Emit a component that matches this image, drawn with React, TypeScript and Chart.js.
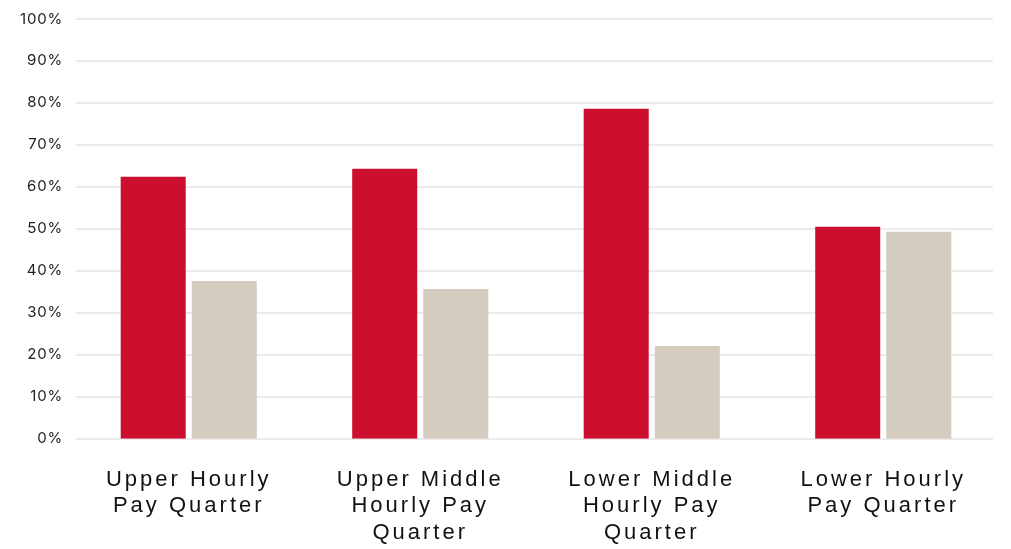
import React, { useEffect, useRef } from "react";
import { Chart, registerables } from "chart.js";

Chart.register(...registerables);

const categories: string[][] = [
  ["Upper Hourly", "Pay Quarter"],
  ["Upper Middle", "Hourly Pay", "Quarter"],
  ["Lower Middle", "Hourly Pay", "Quarter"],
  ["Lower Hourly", "Pay Quarter"],
];
const femaleValues = [62.4, 64.3, 78.6, 50.5];
const maleValues = [37.6, 35.7, 22.1, 49.3];
const yTicks = [0, 10, 20, 30, 40, 50, 60, 70, 80, 90, 100];

const gridPlugin = {
  id: "insetGrid",
  beforeDatasetsDraw(chart: any) {
    const ctx = chart.ctx;
    const y = chart.scales.y;
    const { left, right } = chart.chartArea;
    ctx.save();
    ctx.strokeStyle = "#EBEBEB";
    ctx.lineWidth = 2;
    yTicks.forEach((v) => {
      const py = Math.round(y.getPixelForValue(v));
      ctx.beginPath();
      ctx.moveTo(left + 3, py);
      ctx.lineTo(right - 6, py);
      ctx.stroke();
    });
    ctx.restore();
  },
};

const spacingPlugin = {
  id: "spacing",
  beforeDraw(chart: any) {
    (chart.ctx as any).letterSpacing = "3px";
  },
  beforeDatasetsDraw(chart: any) {
    (chart.ctx as any).letterSpacing = "0.8px";
  },
};

export default function App() {
  const ref = useRef<HTMLCanvasElement>(null);
  useEffect(() => {
    if (!ref.current) return;
    const chart = new Chart(ref.current, {
      type: "bar",
      data: {
        labels: categories as any,
        datasets: [
          {
            label: "Female",
            data: femaleValues,
            backgroundColor: "#CC0F2E",
            categoryPercentage: 0.614,
            barPercentage: 0.915,
          },
          {
            label: "Male",
            data: maleValues,
            backgroundColor: "#D4CCBF",
            categoryPercentage: 0.614,
            barPercentage: 0.915,
          },
        ],
      },
      options: {
        animation: false,
        responsive: false,
        maintainAspectRatio: false,
        layout: { padding: { top: 8, right: 12, left: 0, bottom: -25 } },
        plugins: {
          legend: { display: false },
          tooltip: { enabled: false },
        },
        scales: {
          x: {
            grid: { display: false, drawTicks: false },
            border: { display: false },
            ticks: {
              color: "#111111",
              padding: 28,
              maxRotation: 0,
              font: { family: "'Liberation Sans', Arial, sans-serif", size: 22, lineHeight: 1.2 },
            },
          },
          y: {
            min: 0,
            max: 100,
            afterFit(scale: any) {
              scale.width = 73;
            },
            afterBuildTicks(scale: any) {
              scale.ticks = yTicks.map((v) => ({ value: v }));
            },
            grid: { display: false, drawTicks: false },
            border: { display: false },
            ticks: {
              z: 1,
              color: "#222222",
              padding: 10,
              font: { family: "Inter, sans-serif", size: 15 },
              callback: (v: any) => v + "%",
            },
          },
        },
      },
      plugins: [spacingPlugin, gridPlugin],
    });
    return () => chart.destroy();
  }, []);
  return (
    <div style={{ position: "absolute", left: 0, top: 0, width: 1011, height: 549, background: "#fff" }}>
      <canvas ref={ref} width={1011} height={549} />
    </div>
  );
}
